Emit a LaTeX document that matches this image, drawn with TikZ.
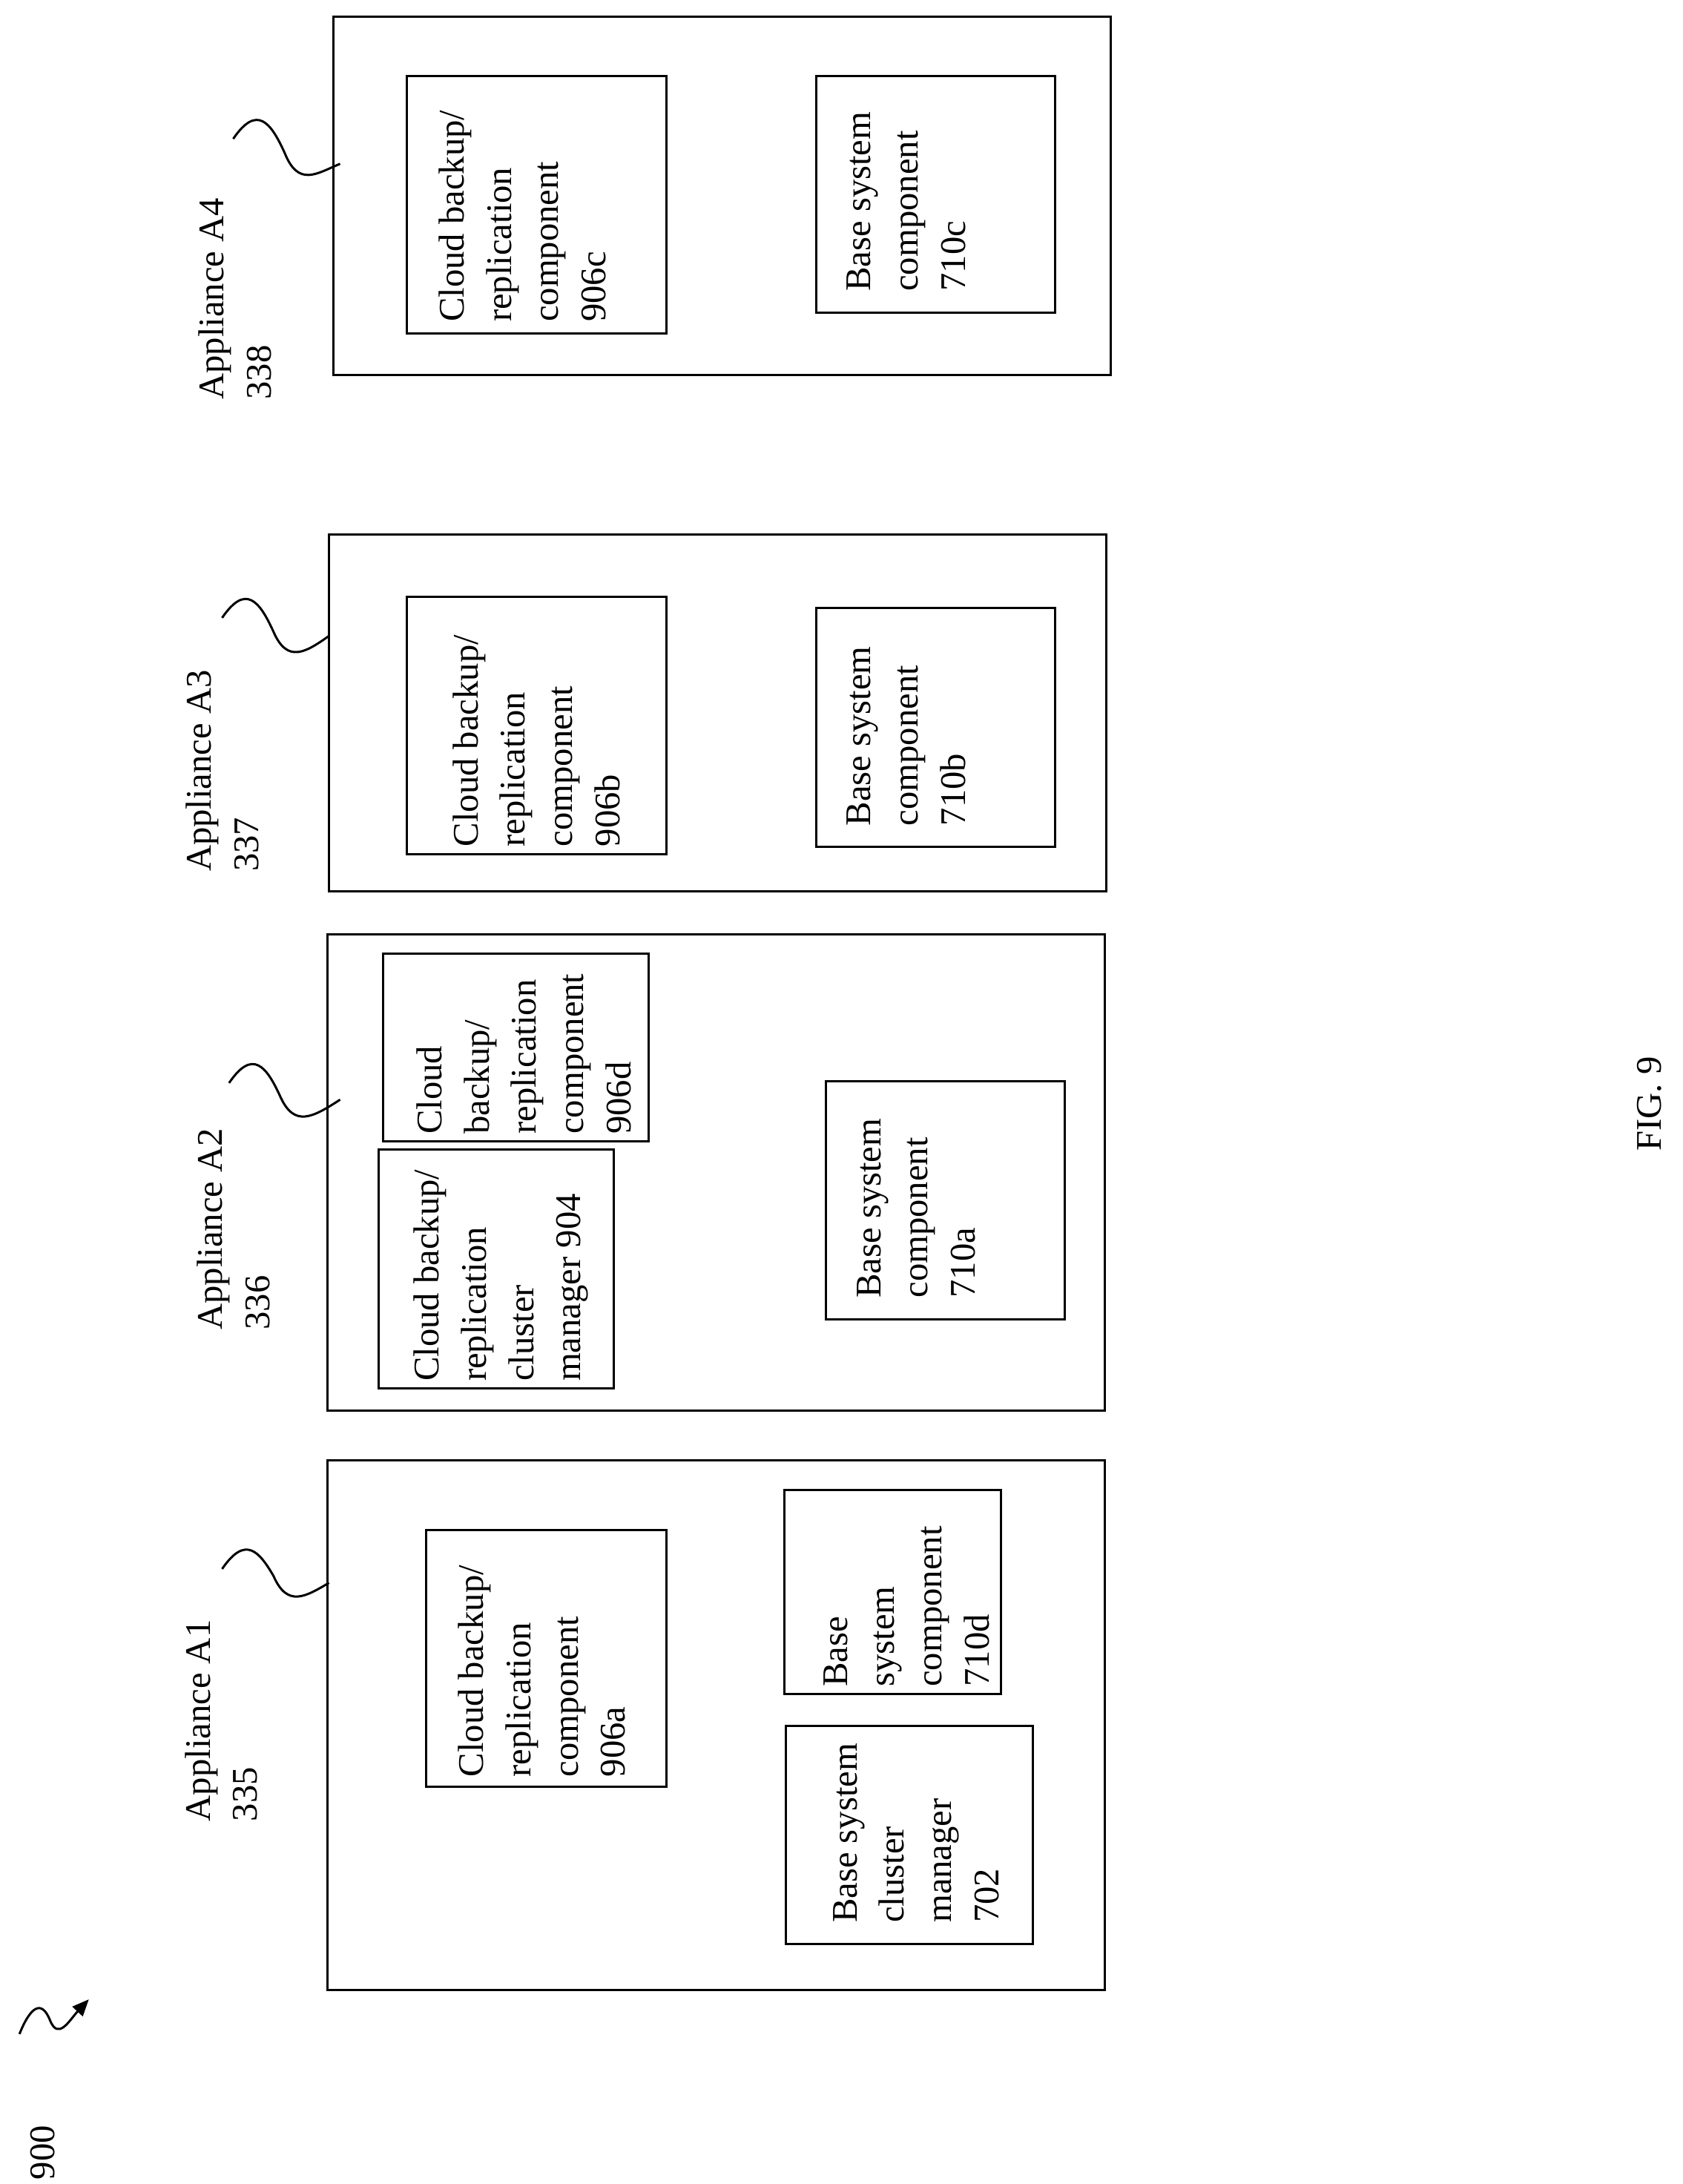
\documentclass[tikz,border=0pt]{standalone}
\usepackage{fontspec}
\setmainfont{Liberation Serif}
\usetikzlibrary{arrows.meta}
\begin{document}
\begin{tikzpicture}[x=1pt,y=-1pt,
  box/.style={draw,line width=1.6pt},
  lbl/.style={rotate=90,anchor=north west,align=left,inner sep=0pt,font=\fontsize{26}{34}\selectfont},
  sq/.style={line width=1.6pt}]
\useasboundingbox (0,0) rectangle (1212,1573);
% outer boxes
\draw[box] (240,12) rectangle (800,270);
\draw[box] (237,385) rectangle (797,642);
\draw[box] (236,673) rectangle (796,1016);
\draw[box] (236,1052) rectangle (796,1433);
% inner boxes
\draw[box] (293,55) rectangle (480,240);
\draw[box] (588,55) rectangle (760,225);
\draw[box] (293,430) rectangle (480,615);
\draw[box] (588,438) rectangle (760,610);
\draw[box] (276,687) rectangle (467,822);
\draw[box] (273,828) rectangle (442,1000);
\draw[box] (595,779) rectangle (767,950);
\draw[box] (307,1102) rectangle (480,1287);
\draw[box] (565,1073) rectangle (721,1220);
\draw[box] (566,1243) rectangle (744,1400);
% texts
\node[lbl] (t906c) at (316,232) {Cloud backup/\\replication\\component\\906c};
\node[lbl] (t710c) at (610,210) {Base system\\component\\710c};
\node[lbl] (t906b) at (326,610) {Cloud backup/\\replication\\component\\906b};
\node[lbl] (t710b) at (610,595) {Base system\\component\\710b};
\node[lbl] (t906d) at (300,817) {Cloud\\backup/\\replication\\component\\906d};
\node[lbl] (t904) at (298,995) {Cloud backup/\\replication\\cluster\\manager 904};
\node[lbl] (t710a) at (617,935) {Base system\\component\\710a};
\node[lbl] (t906a) at (330,1280) {Cloud backup/\\replication\\component\\906a};
\node[lbl] (t710d) at (593,1215) {Base\\system\\component\\710d};
\node[lbl] (t702) at (600,1385) {Base system\\cluster\\manager\\702};
% appliance labels
\node[lbl] (a4) at (143,288) {Appliance A4\\338};
\node[lbl] (a3) at (134,628) {Appliance A3\\337};
\node[lbl] (a2) at (142,958) {Appliance A2\\336};
\node[lbl] (a1) at (133,1312) {Appliance A1\\335};
\node[lbl] (n900) at (22,1570) {900};
\node[rotate=90,font=\fontsize{26}{34}\selectfont] (fig) at (1188,795) {FIG. 9};
% squiggles
\draw[sq] (168,100) .. controls (185,75) and (195,88) .. (205,110) .. controls (215,135) and (228,125) .. (245,118);
\draw[sq] (160,445) .. controls (177,420) and (187,433) .. (197,455) .. controls (207,478) and (220,470) .. (237,458);
\draw[sq] (165,780) .. controls (182,755) and (192,768) .. (202,790) .. controls (212,812) and (225,805) .. (245,792);
\draw[sq] (160,1130) .. controls (177,1105) and (187,1118) .. (197,1135) .. controls (207,1158) and (220,1150) .. (237,1140);
\draw[sq,-{Triangle[length=12pt,width=10pt]}] (14,1465) .. controls (22,1445) and (30,1440) .. (36,1455) .. controls (42,1470) and (50,1455) .. (64,1440);
\end{tikzpicture}
\end{document}
